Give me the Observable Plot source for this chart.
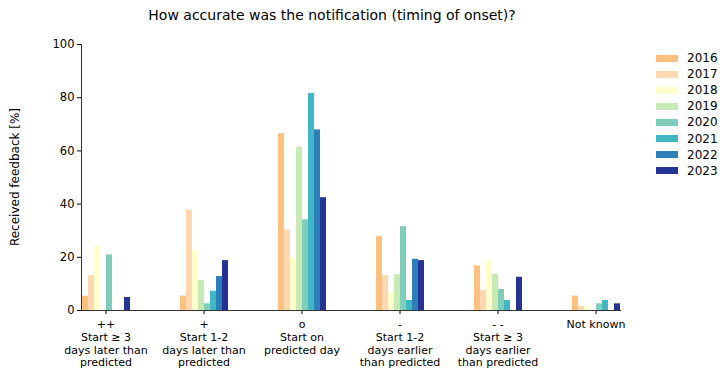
<!DOCTYPE html>
<html>
<head>
<meta charset="utf-8">
<script src="https://cdn.jsdelivr.net/npm/d3@7"></script>
<script src="https://cdn.jsdelivr.net/npm/@observablehq/plot@0.6"></script>
<style>
  body { margin: 0; background: #fff; }
  #wrap { position: relative; width: 728px; height: 375px; font-family: "DejaVu Sans", sans-serif; color: #000; }
  #title { position: absolute; top: 7px; left: 0; width: 664px; text-align: center; font-size: 14px; }
  #ylabel { position: absolute; left: 15px; top: 177px; transform: translate(-50%, -50%) rotate(-90deg); font-size: 12px; white-space: nowrap; }
  #legend { position: absolute; left: 656px; top: 50px; font-size: 12px; }
  .item { display: flex; align-items: center; height: 16.1px; }
  .sw { width: 22px; height: 7px; margin-right: 9px; }
</style>
</head>
<body>
<div id="wrap">
  <div id="title">How accurate was the notification (timing of onset)?</div>
  <div id="ylabel">Received feedback [%]</div>
  <div id="legend"></div>
</div>
<script>
const categories = [
  "++\nStart ≥ 3\ndays later than\npredicted",
  "+\nStart 1-2\ndays later than\npredicted",
  "o\nStart on\npredicted day",
  "-\nStart 1-2\ndays earlier\nthan predicted",
  "- -\nStart ≥ 3\ndays earlier\nthan predicted",
  "Not known"
];
const years = ["2016", "2017", "2018", "2019", "2020", "2021", "2022", "2023"];
const colors = ["#fec07f", "#fed8b1", "#ffffcc", "#c7e9b4", "#7fcdbb", "#41b6c4", "#2c7fb8", "#253494"];
const v2016 = [5.4, 5.4, 66.5, 27.75, 16.75, 5.4];
const v2017 = [13.1, 37.75, 30.25, 13.1, 7.5, 1.6];
const v2018 = [24, 22.6, 19.75, 6.6, 18.75, 1.25];
const v2019 = [0, 11.25, 61.4, 13.5, 13.5, 0];
const v2020 = [20.9, 2.5, 34.1, 31.5, 7.9, 2.5];
const v2021 = [0, 7.25, 81.6, 3.75, 3.75, 3.75];
const v2022 = [0, 12.75, 67.9, 19.25, 0, 0];
const v2023 = [4.9, 18.75, 42.4, 18.75, 12.5, 2.5];
const yTicks = [0, 20, 40, 60, 80, 100];

const series = [v2016, v2017, v2018, v2019, v2020, v2021, v2022, v2023];
const data = [];
years.forEach((yr, i) => categories.forEach((c, j) => data.push({cat: c, year: yr, value: series[i][j]})));

const chart = Plot.plot({
  width: 728,
  height: 375,
  marginTop: 44,
  marginBottom: 65,
  marginLeft: 54,
  marginRight: 82,
  style: {fontFamily: "DejaVu Sans, sans-serif", fontSize: "11px", color: "#000", background: "transparent"},
  fx: {domain: categories, paddingInner: 0.5, paddingOuter: 0.25, label: null},
  x: {domain: years, padding: 0, axis: null},
  y: {domain: [0, 100], label: null},
  color: {domain: years, range: colors},
  marks: [
    Plot.barY(data, {fx: "cat", x: "year", y: "value", fill: "year", inset: 0}),
    Plot.axisY({ticks: yTicks, tickSize: 4, tickPadding: 3, label: null, fontSize: 11.5}),
    Plot.axisFx({anchor: "bottom", tickSize: 4, tickPadding: 5, label: null, lineHeight: 1.15, fontSize: 11}),
    Plot.frame({anchor: "left", facet: "super", stroke: "#333"}),
    Plot.frame({anchor: "bottom", facet: "super", stroke: "#333"})
  ]
});
chart.style.position = "absolute";
chart.style.left = "0";
chart.style.top = "0";
document.getElementById("wrap").prepend(chart);

const legend = document.getElementById("legend");
years.forEach((yr, i) => {
  const item = document.createElement("div");
  item.className = "item";
  const sw = document.createElement("div");
  sw.className = "sw";
  sw.style.background = colors[i];
  const t = document.createElement("span");
  t.textContent = yr;
  item.append(sw, t);
  legend.append(item);
});
</script>
</body>
</html>
